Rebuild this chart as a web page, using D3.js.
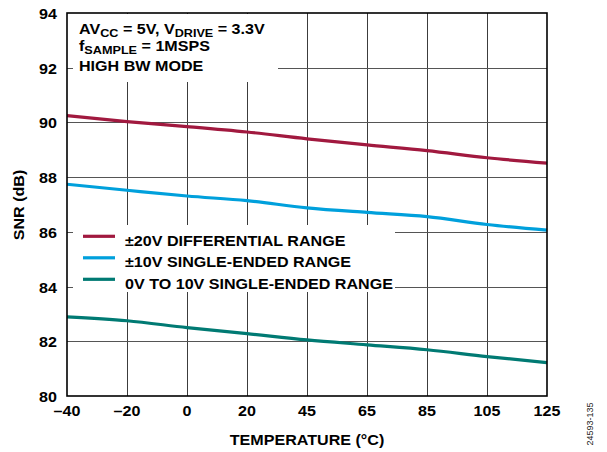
<!DOCTYPE html>
<html><head><meta charset="utf-8">
<script src="https://cdn.jsdelivr.net/npm/d3@7"></script>
<style>body{margin:0;background:#fff}svg{display:block;font-family:"Liberation Sans",Arial,sans-serif}</style>
</head><body><svg id="c" width="607" height="452"></svg>
<script>
const temps = ["–40","–20","0","20","45","65","85","105","125"];
const yTicks = [80,82,84,86,88,90,92,94];
const seriesNames = ["±20V DIFFERENTIAL RANGE","±10V SINGLE-ENDED RANGE","0V TO 10V SINGLE-ENDED RANGE"];
const diff20 = [90.25,90.03,89.85,89.65,89.40,89.18,88.97,88.71,88.51];
const se10 = [87.74,87.52,87.31,87.14,86.88,86.71,86.56,86.27,86.06];
const se0to10 = [82.89,82.75,82.50,82.28,82.05,81.87,81.69,81.44,81.22];
const colors = ["#A1193F","#00A0DC","#007A73"];

const SX = 1.15; // horizontal widening of the bold face
const svg = d3.select("#c");
const L=67,R=547,T=13,B=396;
const x = d3.scalePoint().domain(temps).range([L,R]);
const y = d3.scaleLinear().domain([80,94]).range([B,T]);

function label(parent, px, py, str, anchor, opts) {
  opts = opts || {};
  const g = parent.append("g")
    .attr("transform", `translate(${px},${py})` + (opts.rot ? ` rotate(${opts.rot})` : "") + ` scale(${opts.sx || SX},1)`);
  return g.append("text").attr("text-anchor", anchor)
    .attr("font-size", opts.size || 14).attr("font-weight", opts.weight || "bold")
    .attr("fill", opts.fill || "#000").text(str);
}

// gridlines
const g = svg.append("g");
g.selectAll("line.v").data(temps.slice(1,-1)).join("line")
  .attr("x1",d=>Math.round(x(d))+0.5).attr("x2",d=>Math.round(x(d))+0.5)
  .attr("y1",T).attr("y2",B).attr("stroke","#3c3c3c").attr("stroke-width",1);
g.selectAll("line.h").data(yTicks.slice(1,-1)).join("line")
  .attr("y1",d=>Math.round(y(d))+0.5).attr("y2",d=>Math.round(y(d))+0.5)
  .attr("x1",L).attr("x2",R).attr("stroke","#555").attr("stroke-width",1);

// white boxes behind annotation and legend
svg.append("rect").attr("x",73).attr("y",T+1).attr("width",205).attr("height",68).attr("fill","#fff");
svg.append("rect").attr("x",73).attr("y",225).attr("width",322).attr("height",67).attr("fill","#fff");

// data lines
const data = [diff20,se10,se0to10];
const line = d3.line().x((d,i)=>x(temps[i])).y(d=>y(d)).curve(d3.curveMonotoneX);
svg.selectAll("path.s").data(data).join("path")
  .attr("d",line).attr("fill","none").attr("stroke",(d,i)=>colors[i]).attr("stroke-width",3.2);

// frame
svg.append("rect").attr("x",L).attr("y",T).attr("width",R-L).attr("height",B-T)
  .attr("fill","none").attr("stroke","#000").attr("stroke-width",1.6);

// tick labels
temps.forEach(t => label(svg, x(t), 416, t, "middle"));
yTicks.forEach(v => label(svg, 57, y(v)+6, v, "end"));

// axis titles
label(svg, 307, 445, "TEMPERATURE (°C)", "middle");
label(svg, 24, 205, "SNR (dB)", "middle", {rot:-90});
label(svg, 593, 424, "24593-135", "middle", {rot:-90, size:9, weight:"normal", fill:"#222", sx:1});

// annotation
const annG = svg.append("g").attr("transform", `translate(79,0) scale(${SX},1)`);
const ann = annG.append("text").attr("font-size",14).attr("font-weight","bold");
const l1 = ann.append("tspan").attr("x",0).attr("y",34.5);
l1.append("tspan").text("AV");
l1.append("tspan").attr("font-size",11).attr("dy",2.5).text("CC");
l1.append("tspan").attr("dy",-2.5).text(" = 5V, V");
l1.append("tspan").attr("font-size",11).attr("dy",2.5).text("DRIVE");
l1.append("tspan").attr("dy",-2.5).text(" = 3.3V");
const l2 = ann.append("tspan").attr("x",0).attr("y",51.3);
l2.append("tspan").text("f");
l2.append("tspan").attr("font-size",11).attr("dy",2.5).text("SAMPLE");
l2.append("tspan").attr("dy",-2.5).text(" = 1MSPS");
ann.append("tspan").attr("x",0).attr("y",70.7).text("HIGH BW MODE");

// legend
const leg = svg.selectAll("g.leg").data(seriesNames).join("g")
  .attr("transform",(d,i)=>`translate(0,${236.3+i*21.5})`);
leg.append("line").attr("x1",83).attr("x2",115).attr("y1",0).attr("y2",0)
  .attr("stroke",(d,i)=>colors[i]).attr("stroke-width",3.2);
leg.each(function(d){ label(d3.select(this), 125, 9.5, d, "start"); });
</script></body></html>
